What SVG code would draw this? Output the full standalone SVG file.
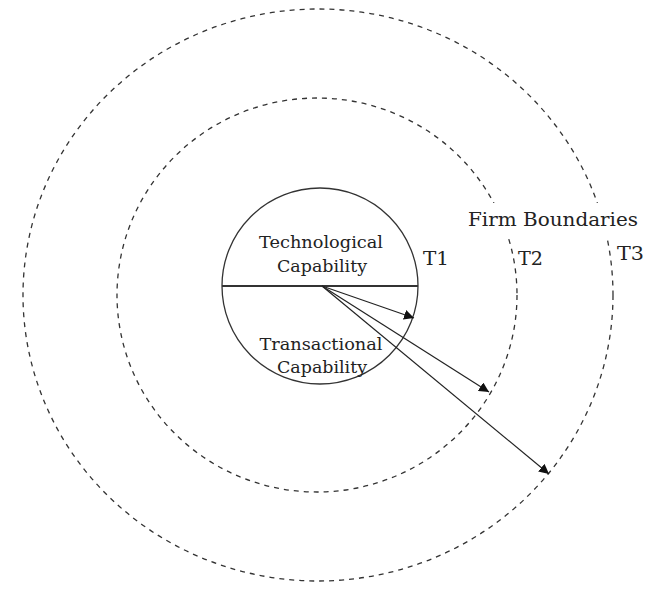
<svg xmlns="http://www.w3.org/2000/svg" width="650" height="590" viewBox="0 0 650 590">
  <defs>
    <style>
      .bound { fill: none; stroke: #333; stroke-width: 1.3; stroke-dasharray: 5 5; }
      .core { fill: none; stroke: #333; stroke-width: 1.3; }
      .div { stroke: #333; stroke-width: 2; }
      .arrow { stroke: #222; stroke-width: 1.2; fill: none; marker-end: url(#head); }
      .lbl { font-family: "DejaVu Serif", "Liberation Serif", serif; fill: #222; }
      .in { font-size: 17px; text-anchor: middle; }
      .out { font-size: 19px; }
    </style>
    <marker id="head" viewBox="0 0 10 10" refX="10" refY="5" markerWidth="10" markerHeight="10" markerUnits="userSpaceOnUse" orient="auto">
      <path d="M0,0 L10,5 L0,10 Z" fill="#111"/>
    </marker>
  </defs>
  <rect width="650" height="590" fill="#fff"/>

  <g id="boundary-T3">
    <ellipse class="bound" cx="318" cy="295" rx="295" ry="286"/>
  </g>
  <g id="boundary-T2">
    <ellipse class="bound" cx="317" cy="295" rx="200" ry="197"/>
  </g>

  <g id="firm-boundaries">
    <rect x="462" y="203" width="184" height="34" fill="#fff"/>
    <text class="lbl out" x="468" y="226" textLength="170" lengthAdjust="spacingAndGlyphs">Firm Boundaries</text>
  </g>

  <g id="core">
    <circle class="core" cx="320" cy="286" r="98"/>
    <line class="div" x1="222" y1="286" x2="418" y2="286"/>
  </g>
  <g id="technological">
    <text class="lbl in" x="321" y="248" textLength="124" lengthAdjust="spacingAndGlyphs">Technological</text>
    <text class="lbl in" x="322" y="272" textLength="90" lengthAdjust="spacingAndGlyphs">Capability</text>
  </g>
  <g id="transactional">
    <text class="lbl in" x="321" y="350" textLength="123" lengthAdjust="spacingAndGlyphs">Transactional</text>
    <text class="lbl in" x="322" y="373" textLength="90" lengthAdjust="spacingAndGlyphs">Capability</text>
  </g>

  <g id="T1"><text class="lbl out" x="423" y="265" textLength="26" lengthAdjust="spacingAndGlyphs">T1</text></g>
  <g id="T2"><text class="lbl out" x="518" y="265" textLength="25" lengthAdjust="spacingAndGlyphs">T2</text></g>
  <g id="T3"><text class="lbl out" x="617" y="260" textLength="27" lengthAdjust="spacingAndGlyphs">T3</text></g>

  <g id="connectors">
    <line class="arrow" x1="322" y1="286" x2="414" y2="318"/>
    <line class="arrow" x1="322" y1="286" x2="489" y2="392"/>
    <line class="arrow" x1="322" y1="286" x2="549" y2="474"/>
  </g>
</svg>
